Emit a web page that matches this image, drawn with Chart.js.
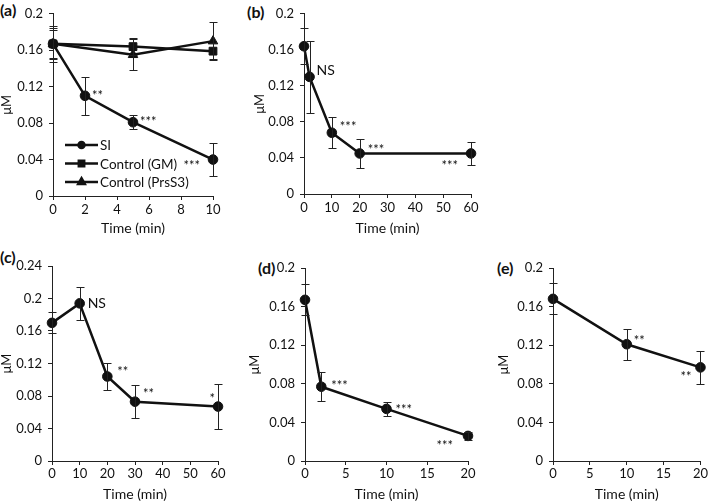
<!DOCTYPE html>
<html lang="en">
<head>
<meta charset="UTF-8">
<title>Concentration time course</title>
<script src="https://cdn.jsdelivr.net/npm/chart.js"></script>
<style>
  body { margin: 0; background: #fff; }
  #fig { position: relative; width: 709px; height: 504px; overflow: hidden; }
  #fig canvas { position: absolute; }
  .tag { position: absolute; font: bold 16px Lato, sans-serif; color: #111; line-height: 1; }
</style>
</head>
<body>
<div id="fig">
  <span class="tag" style="left:0px;top:2px">(a)</span>
  <span class="tag" style="left:247px;top:4px">(b)</span>
  <span class="tag" style="left:0px;top:249px">(c)</span>
  <span class="tag" style="left:258px;top:260px">(d)</span>
  <span class="tag" style="left:497px;top:260px">(e)</span>
</div>

<script>
    // (a) SI vs controls
    const timeA = [0, 2, 5, 10];
    const siA = [0.167, 0.110, 0.081, 0.040];
    const siErrA = [0.020, 0.021, 0.008, 0.018];
    const siSigA = ['', '**', '***', '***'];
    const timeCtrlA = [0, 5, 10];
    const gmA = [0.167, 0.164, 0.159];
    const gmErrA = [0.017, 0.009, 0.009];
    const prsA = [0.167, 0.155, 0.170];
    const prsErrA = [0.015, 0.017, 0.021];

    // (b)
    const timeB = [0, 2, 10, 20, 60];
    const valB = [0.164, 0.130, 0.068, 0.045, 0.045];
    const errB = [0.020, 0.040, 0.017, 0.016, 0.013];
    const sigB = ['', 'NS', '***', '***', '***'];

    // (c)
    const timeC = [0, 10, 20, 30, 60];
    const valC = [0.170, 0.194, 0.104, 0.073, 0.067];
    const errC = [0.013, 0.020, 0.017, 0.020, 0.028];
    const sigC = ['', 'NS', '**', '**', '*'];

    // (d)
    const timeD = [0, 2, 10, 20];
    const valD = [0.167, 0.077, 0.054, 0.026];
    const errD = [0.016, 0.015, 0.0075, 0.004];
    const sigD = ['', '***', '***', '***'];

    // (e)
    const timeE = [0, 10, 20];
    const valE = [0.168, 0.121, 0.097];
    const errE = [0.016, 0.016, 0.017];
    const sigE = ['', '**', '**'];

    const seriesNames = ['SI', 'Control (GM)', 'Control (PrsS3)'];
    const xTitle = 'Time (min)';
    const yTitle = 'μM';

    // label offsets (px) from each point, negative dx = text to the left
    const offA = [null, [7, -4], [7, -4], [-13, 2]];
    const offB = [null, [7, -6], [8, -10], [8, -8], [-13, 8]];
    const offC = [null, [8, 0], [10, -9], [8, -12], [-3, -12]];
    const offD = [null, [10, -5], [9, -3], [-15, 6]];
    const offE = [null, [7, -7], [-9, 5]];

    const FONT = 'Lato, "Open Sans", sans-serif';
    const INK = '#111';

    const pts = (xs, ys) => xs.map((x, i) => ({ x: x, y: ys[i] }));

    function serie(label, xs, ys, err, style, extra) {
        return Object.assign({
            label: label,
            data: pts(xs, ys),
            err: err,
            showLine: true,
            borderColor: INK,
            backgroundColor: INK,
            borderWidth: 2.5,
            pointStyle: style,
            pointRadius: style === 'circle' ? 4.8 : 5.5,
            pointBorderWidth: 1,
            clip: false
        }, extra || {});
    }

    const errBars = {
        id: 'errBars',
        afterDatasetsDraw(chart) {
            const ctx = chart.ctx, sx = chart.scales.x, sy = chart.scales.y;
            ctx.save();
            ctx.strokeStyle = '#222';
            ctx.lineWidth = 1;
            chart.data.datasets.forEach(ds => {
                if (!ds.err) return;
                ds.data.forEach((p, i) => {
                    const e = ds.err[i];
                    if (!e) return;
                    const px = Math.round(sx.getPixelForValue(p.x)) + 0.5;
                    const t = Math.round(sy.getPixelForValue(p.y + e)) + 0.5;
                    const b = Math.round(sy.getPixelForValue(p.y - e)) + 0.5;
                    ctx.beginPath();
                    ctx.moveTo(px, t); ctx.lineTo(px, b);
                    ctx.moveTo(px - 4, t); ctx.lineTo(px + 4, t);
                    ctx.moveTo(px - 4, b); ctx.lineTo(px + 4, b);
                    ctx.stroke();
                });
            });
            ctx.restore();
        }
    };

    const sigMarks = {
        id: 'sigMarks',
        afterDatasetsDraw(chart) {
            const ctx = chart.ctx, sx = chart.scales.x, sy = chart.scales.y;
            ctx.save();
            ctx.fillStyle = INK;
            ctx.textBaseline = 'middle';
            chart.data.datasets.forEach(ds => {
                if (!ds.sig) return;
                ds.data.forEach((p, i) => {
                    const s = ds.sig[i];
                    if (!s) return;
                    const dx = ds.sigOff[i][0], dy = ds.sigOff[i][1];
                    const star = s !== 'NS';
                    ctx.font = star ? '13px ' + FONT : '14px ' + FONT;
                    ctx.textAlign = dx < 0 ? 'right' : 'left';
                    ctx.fillText(s, sx.getPixelForValue(p.x) + dx, sy.getPixelForValue(p.y) + dy + (star ? 4 : 0));
                });
            });
            ctx.restore();
        }
    };

    // legend drawn inside panel (a): line + marker + text
    const lineLegend = {
        id: 'lineLegend',
        afterDraw(chart, args, o) {
            if (!o.show) return;
            const ctx = chart.ctx;
            ctx.save();
            chart.data.datasets.forEach((ds, i) => {
                const y = o.y + i * o.gap;
                ctx.strokeStyle = INK;
                ctx.lineWidth = 2.5;
                ctx.beginPath();
                ctx.moveTo(o.x, y); ctx.lineTo(o.x + o.len, y);
                ctx.stroke();
                ctx.fillStyle = INK;
                Chart.helpers.drawPoint(ctx, {
                    pointStyle: ds.pointStyle, radius: ds.pointStyle === 'circle' ? 3 : 3.8,
                    rotation: 0, borderWidth: 1
                }, o.x + o.len / 2, y);
                ctx.font = '13.5px ' + FONT;
                ctx.textAlign = 'left';
                ctx.textBaseline = 'middle';
                ctx.fillText(ds.label, o.x + o.len + 2, y + 1);
            });
            ctx.restore();
        }
    };

    const fmt = v => String(parseFloat(v.toFixed(2)));

    function panel(box, area, xr, yr, datasets, lay, legend) {
        const cv = document.createElement('canvas');
        cv.width = box.w; cv.height = box.h;
        cv.style.left = box.left + 'px'; cv.style.top = box.top + 'px';
        cv.style.width = box.w + 'px'; cv.style.height = box.h + 'px';
        document.getElementById('fig').appendChild(cv);

        const yW = area.l - box.left;
        const xH = box.top + box.h - area.b;
        const axisBits = {
            grid: { display: true, drawOnChartArea: false, drawTicks: true, tickLength: 4, color: '#222' },
            border: { display: true, color: '#222', width: 1 }
        };
        new Chart(cv, {
            type: 'scatter',
            data: { datasets: datasets },
            options: {
                responsive: false,
                animation: false,
                events: [],
                layout: { padding: { left: 0, top: area.t - box.top, right: box.left + box.w - area.r, bottom: 0 } },
                plugins: { legend: { display: false }, tooltip: { enabled: false }, lineLegend: legend || { show: false } },
                scales: {
                    x: Object.assign({
                        type: 'linear', min: xr[0], max: xr[1],
                        ticks: { stepSize: xr[2], padding: lay.xPad, color: INK, font: { family: FONT, size: 13 } },
                        title: { display: true, text: xTitle, color: INK, font: { family: FONT, size: 14, lineHeight: 1 }, padding: { top: 0, bottom: lay.xTitlePad } },
                        afterFit: s => { s.height = xH; }
                    }, axisBits),
                    y: Object.assign({
                        type: 'linear', min: yr[0], max: yr[1],
                        ticks: { stepSize: yr[2], padding: 6, color: INK, font: { family: FONT, size: 13 }, callback: fmt },
                        title: { display: true, text: yTitle, color: INK, font: { family: FONT, size: 13, lineHeight: 1 }, padding: { top: lay.yTitlePad, bottom: 0 } },
                        afterFit: s => { s.width = yW; }
                    }, axisBits)
                }
            },
            plugins: [errBars, sigMarks, lineLegend]
        });
    }

    const rowTop = { xPad: 2, xTitlePad: 10 };
    const rowBot = { xPad: 1, xTitlePad: 3 };

    panel({ left: 0, top: 0, w: 225, h: 245 }, { l: 53, t: 7, r: 213, b: 196 }, [0, 10, 2], [0, 0.2, 0.04], [
        serie(seriesNames[0], timeA, siA, siErrA, 'circle', { sig: siSigA, sigOff: offA }),
        serie(seriesNames[1], timeCtrlA, gmA, gmErrA, 'rect'),
        serie(seriesNames[2], timeCtrlA, prsA, prsErrA, 'triangle')
    ], Object.assign({ yTitlePad: 0 }, rowTop), { show: true, x: 65, y: 145, gap: 18.5, len: 33 });

    panel({ left: 250, top: 0, w: 232, h: 245 }, { l: 304, t: 6, r: 471, b: 194 }, [0, 60, 10], [0, 0.2, 0.04], [
        serie(seriesNames[0], timeB, valB, errB, 'circle', { sig: sigB, sigOff: offB })
    ], Object.assign({ yTitlePad: 3 }, rowTop));

    panel({ left: 0, top: 250, w: 230, h: 254 }, { l: 52, t: 266, r: 218, b: 461 }, [0, 60, 10], [0, 0.24, 0.04], [
        serie(seriesNames[0], timeC, valC, errC, 'circle', { sig: sigC, sigOff: offC })
    ], Object.assign({ yTitlePad: 0 }, rowBot));

    panel({ left: 245, top: 250, w: 235, h: 254 }, { l: 305, t: 268, r: 468, b: 461 }, [0, 20, 5], [0, 0.2, 0.04], [
        serie(seriesNames[0], timeD, valD, errD, 'circle', { sig: sigD, sigOff: offD })
    ], Object.assign({ yTitlePad: 3 }, rowBot));

    panel({ left: 495, top: 250, w: 214, h: 254 }, { l: 553, t: 268, r: 702, b: 461 }, [0, 20, 5], [0, 0.2, 0.04], [
        serie(seriesNames[0], timeE, valE, errE, 'circle', { sig: sigE, sigOff: offE })
    ], Object.assign({ yTitlePad: 2 }, rowBot));
</script>
</body>
</html>
